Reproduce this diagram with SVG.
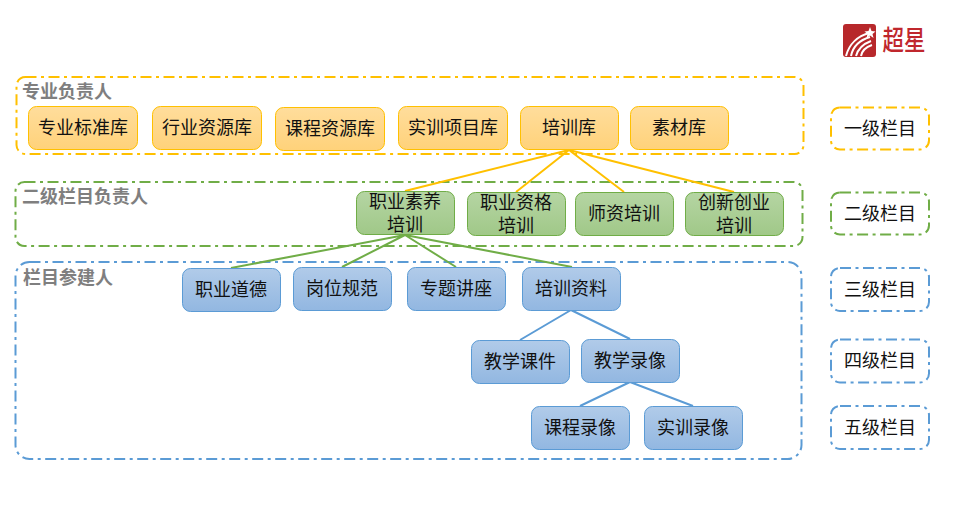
<svg xmlns="http://www.w3.org/2000/svg" width="957" height="522" viewBox="0 0 957 522">
<style>
text{font-family:"Noto Sans CJK SC","Liberation Sans",sans-serif;text-anchor:middle;fill:#111;font-size:18px}
.t{font-weight:700;fill:#7f7f7f;text-anchor:start;font-size:18px}
.g{fill:none;stroke-width:2;stroke-dasharray:11 4.500 3 4.500}
.y{stroke:#ffc000}.gr{stroke:#70ad47}.b{stroke:#5b9bd5}
.n{stroke-width:1}
.ny{fill:url(#fy);stroke:#ffc000}.ng{fill:url(#fg);stroke:#70ad47}.nb{fill:url(#fb);stroke:#5b9bd5}
.c{fill:none;stroke-width:2}
</style>
<defs>
<linearGradient id="fy" x1="0" y1="0" x2="0" y2="1"><stop offset="0" stop-color="#ffdd9c"/><stop offset="1" stop-color="#ffd27a"/></linearGradient>
<linearGradient id="fg" x1="0" y1="0" x2="0" y2="1"><stop offset="0" stop-color="#b5d5a3"/><stop offset="1" stop-color="#a0c888"/></linearGradient>
<linearGradient id="fb" x1="0" y1="0" x2="0" y2="1"><stop offset="0" stop-color="#b1cbe9"/><stop offset="1" stop-color="#92b7e1"/></linearGradient>
</defs>
<g id="logo">
<rect x="843" y="24" width="33" height="33" rx="3" fill="#b7282b"/>
<path d="M846 56C849 44 858 36 869 33M851 56C853 46 860 40 870 37M856 56C858 49 863 44 871 41M861 56C862 51 866 47 872 45" fill="none" stroke="#fff" stroke-width="2"/>
<path d="M870 27l1.500 4 4 .5-3 2.500 1 4-3.500-2.500-3.500 2.500 1-4-3-2.500 4-.5z" fill="#fff"/>
<text transform="translate(904 50) scale(1 1.25)" style="font-size:21.500px;fill:#c0272d;font-weight:500">超星</text>
</g>
<g id="group-1"><rect class="g y" x="16.500" y="77" width="787" height="77" rx="9"/><text class="t" x="22" y="98">专业负责人</text></g>
<g id="group-2"><rect class="g gr" x="15.500" y="182" width="787" height="64" rx="9"/><text class="t" x="22" y="203">二级栏目负责人</text></g>
<g id="group-3"><rect class="g b" x="15.500" y="262" width="786" height="197" rx="14"/><text class="t" x="23" y="284">栏目参建人</text></g>
<g id="connectors">
<path class="c y" d="M569 150L405 191M569 150L516 192M569 150L624 192M569 150L734 192"/>
<path class="c gr" d="M405 235L231 268M405 235L342 267M405 235L456 267M405 235L572 267"/>
<path class="c b" d="M571 310L520 340M571 310L630 339M630 382L580 406M630 382L693 406"/>
</g>
<g id="n1"><rect class="n ny" x="28.500" y="106.500" width="109" height="43" rx="8"/><text x="83" y="134">专业标准库</text></g>
<g id="n2"><rect class="n ny" x="152.500" y="106.500" width="109" height="43" rx="8"/><text x="207" y="134">行业资源库</text></g>
<g id="n3"><rect class="n ny" x="275.500" y="107.500" width="109" height="43" rx="8"/><text x="330" y="135">课程资源库</text></g>
<g id="n4"><rect class="n ny" x="398.500" y="106.500" width="109" height="43" rx="8"/><text x="453" y="134">实训项目库</text></g>
<g id="n5"><rect class="n ny" x="520.500" y="106.500" width="98" height="43" rx="8"/><text x="569" y="134">培训库</text></g>
<g id="n6"><rect class="n ny" x="630.500" y="106.500" width="98" height="43" rx="8"/><text x="679" y="134">素材库</text></g>
<g id="n7"><rect class="n ng" x="356.500" y="191.500" width="98" height="43" rx="8"/><text x="405" y="208">职业素养<tspan x="405" dy="23">培训</tspan></text></g>
<g id="n8"><rect class="n ng" x="467.500" y="192.500" width="98" height="43" rx="8"/><text x="516" y="209">职业资格<tspan x="516" dy="23">培训</tspan></text></g>
<g id="n9"><rect class="n ng" x="575.500" y="192.500" width="98" height="43" rx="8"/><text x="624" y="220">师资培训</text></g>
<g id="n10"><rect class="n ng" x="685.500" y="192.500" width="98" height="43" rx="8"/><text x="734" y="209">创新创业<tspan x="734" dy="23">培训</tspan></text></g>
<g id="n11"><rect class="n nb" x="182.500" y="268.500" width="98" height="43" rx="8"/><text x="231" y="296">职业道德</text></g>
<g id="n12"><rect class="n nb" x="293.500" y="267.500" width="98" height="43" rx="8"/><text x="342" y="295">岗位规范</text></g>
<g id="n13"><rect class="n nb" x="407.500" y="267.500" width="98" height="43" rx="8"/><text x="456" y="295">专题讲座</text></g>
<g id="n14"><rect class="n nb" x="522.500" y="267.500" width="98" height="43" rx="8"/><text x="571" y="295">培训资料</text></g>
<g id="n15"><rect class="n nb" x="471.500" y="340.500" width="98" height="43" rx="8"/><text x="520" y="368">教学课件</text></g>
<g id="n16"><rect class="n nb" x="581.500" y="339.500" width="98" height="43" rx="8"/><text x="630" y="367">教学录像</text></g>
<g id="n17"><rect class="n nb" x="531.500" y="406.500" width="98" height="43" rx="8"/><text x="580" y="434">课程录像</text></g>
<g id="n18"><rect class="n nb" x="644.500" y="406.500" width="98" height="43" rx="8"/><text x="693" y="434">实训录像</text></g>
<g id="l1"><rect class="g y" x="831" y="107.500" width="98" height="42" rx="9"/><text x="880" y="135">一级栏目</text></g>
<g id="l2"><rect class="g gr" x="831" y="192.500" width="98" height="42" rx="9"/><text x="880" y="220">二级栏目</text></g>
<g id="l3"><rect class="g b" x="831" y="268" width="98" height="43" rx="9"/><text x="880" y="296">三级栏目</text></g>
<g id="l4"><rect class="g b" x="831" y="339.500" width="98" height="43" rx="9"/><text x="880" y="367">四级栏目</text></g>
<g id="l5"><rect class="g b" x="831" y="406" width="98" height="43" rx="9"/><text x="880" y="434">五级栏目</text></g>
</svg>
